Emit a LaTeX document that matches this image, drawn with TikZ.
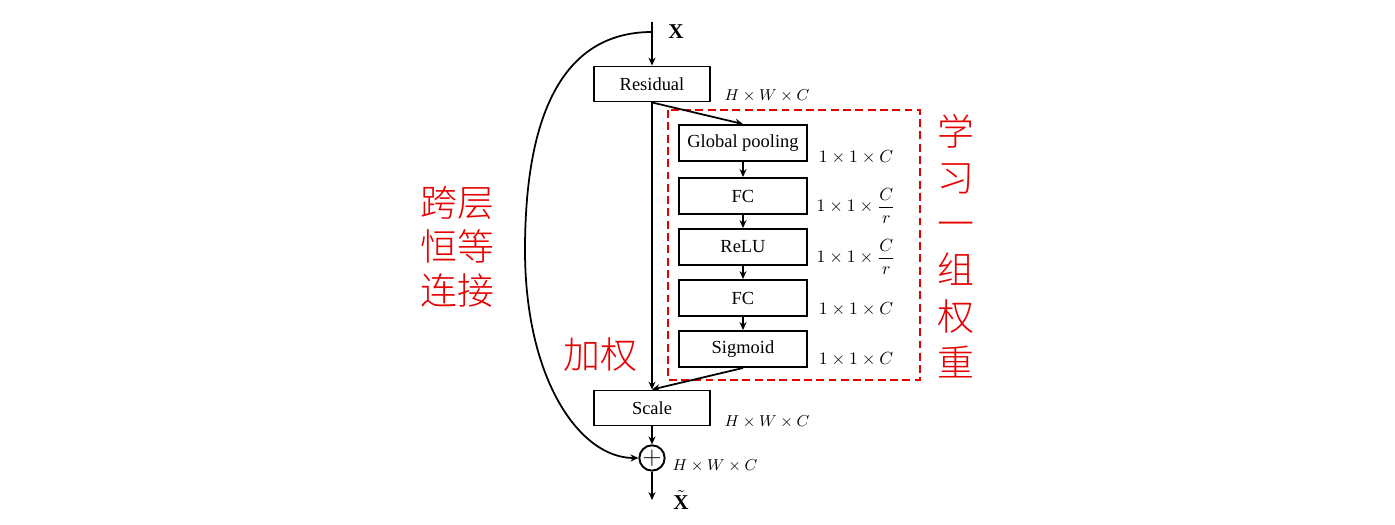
\documentclass[tikz,border=0pt]{standalone}
\usepackage{fontspec}
\setmainfont{Liberation Serif}
\newfontfamily\cjk{Noto Sans CJK SC}[UprightFont=* Light]
\usepackage{amsmath, amssymb}
\usepackage{tikz}
\usetikzlibrary{arrows.meta, positioning, calc}
\definecolor{rojoSE}{RGB}{230,0,0}
\tikzset{
  se/box/.style={rectangle, draw=black, fill=white, line width=1.1pt,
    minimum width=23.2mm, minimum height=7mm, inner sep=1pt,
    font=\fontsize{10.5}{12}\selectfont},
  se/inbox/.style={se/box, minimum width=25.6mm, minimum height=7.2mm},
  se/sum/.style={circle, draw=black, line width=1.1pt, minimum size=4.8mm,
    inner sep=0pt, font=\Large},
  se/arr/.style={-{Stealth[length=4.5pt,width=4pt]}, line width=1pt},
  se/dim/.style={font=\small, inner sep=1pt},
  se/dim2/.style={font=\normalsize, inner sep=1pt},
  se/note/.style={font=\cjk\fontsize{21}{25}\selectfont, text=rojoSE,
    align=center, inner sep=0pt},
  se/dash/.style={draw=rojoSE, line width=1pt, dash pattern=on 4.5pt off 2.5pt}
}
\begin{document}
\begin{tikzpicture}[x=0.2mm, y=-0.2mm]
  \useasboundingbox (0,0) rectangle (1395,525);

  \coordinate (in)    at (652,22);
  \coordinate (skip)  at (652,32);
  \coordinate (out)   at (652,500);

  \node[font=\fontsize{12}{14}\selectfont] at (676,32) (xin) {$\mathbf{X}$};
  \node[se/box]   at (652,84)  (res)  {Residual};
  \node[se/inbox] at (743,143) (gp)   {Global pooling};
  \node[se/inbox] at (743,196) (fc1)  {FC};
  \node[se/inbox] at (743,247) (relu) {ReLU};
  \node[se/inbox] at (743,298) (fc2)  {FC};
  \node[se/inbox] at (743,349) (sig)  {Sigmoid};
  \node[se/box]   at (652,408) (scl)  {Scale};
  \node[se/sum]   at (652,458) (add)  {$+$};
  \node[font=\fontsize{12}{14}\selectfont, inner sep=0pt] at (681,500) (xout)
        {$\tilde{\mathbf{X}}$};

  % dimensiones
  \node[se/dim]  at (767,96)  (d0) {$H\times W\times C$};
  \node[se/dim2] at (856,157) (d1) {$1\times1\times C$};
  \node[se/dim2] at (856,206) (d2) {$1\times1\times\dfrac{C}{r}$};
  \node[se/dim2] at (856,257) (d3) {$1\times1\times\dfrac{C}{r}$};
  \node[se/dim2] at (856,309) (d4) {$1\times1\times C$};
  \node[se/dim2] at (856,359) (d5) {$1\times1\times C$};
  \node[se/dim]  at (767,422) (d6) {$H\times W\times C$};
  \node[se/dim, inner sep=0pt] at (715,466) (d7) {$H\times W\times C$};

  \draw[se/dash] (668,110) rectangle (920,380);

  \node[se/note] at (457,247) (n1) {跨层\\恒等\\连接};
  \node[se/note] at (600,355) (n2) {加权};
  \node[se/note, font=\cjk\fontsize{21}{26.3}\selectfont] at (956,246) (n3)
        {学\\习\\一\\组\\权\\重};

  \draw[se/arr] (in) -- (res.north);
  \draw[se/arr] (res.south) -- (scl.north);
  \draw[se/arr] (res.south) -- (gp.north);
  \draw[se/arr] (gp) -- (fc1);
  \draw[se/arr] (fc1) -- (relu);
  \draw[se/arr] (relu) -- (fc2);
  \draw[se/arr] (fc2) -- (sig);
  \draw[se/arr] (sig.south) -- (scl.north);
  \draw[se/arr] (scl) -- (add);
  \draw[se/arr] (add) -- (out);
  % conexion residual
  \draw[se/arr] (skip) .. controls (560,32) and (525,120) .. (525,250)
        .. controls (525,380) and (580,458) .. (add.west);
\end{tikzpicture}
\end{document}
